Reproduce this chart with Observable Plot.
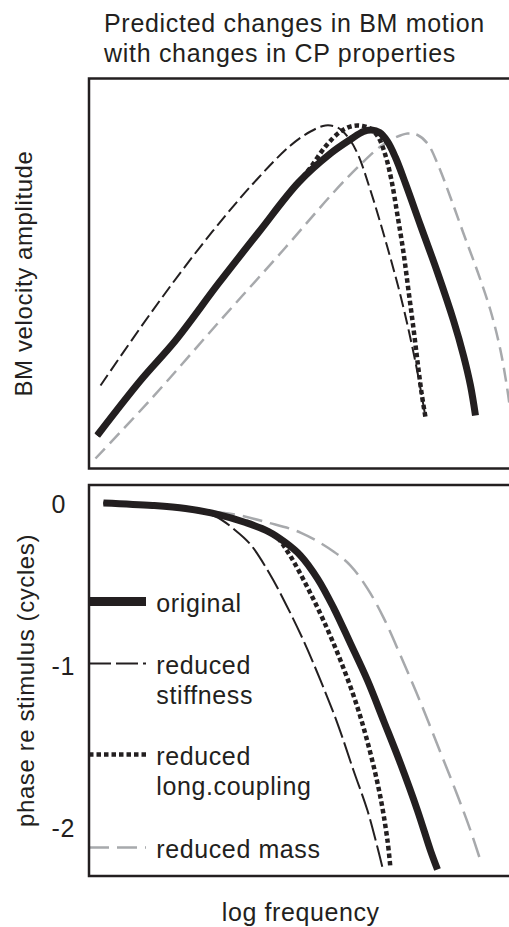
<!DOCTYPE html>
<html>
<head>
<meta charset="utf-8">
<script src="https://cdn.jsdelivr.net/npm/d3@7"></script>
<script src="https://cdn.jsdelivr.net/npm/@observablehq/plot@0.6"></script>
<style>
  html, body { margin: 0; padding: 0; background: #fff; overflow: hidden; width: 509px; height: 927px; }
  #root { position: relative; width: 509px; height: 927px; overflow: hidden;
          font-family: "Liberation Sans", Arial, Helvetica, sans-serif; color: #231f20; }
  #title { position: absolute; left: 104px; top: 8px; font-size: 25px; line-height: 30px;
           letter-spacing: 0.7px; white-space: nowrap; z-index: 2; }
  .panel { position: absolute; left: 0; }
</style>
</head>
<body>
<div id="root">
  <div id="title">Predicted changes in BM motion<br>with changes in CP properties</div>
  <div id="topPanel" class="panel" style="top:70px"></div>
  <div id="bottomPanel" class="panel" style="top:480px"></div>
</div>
<script>
// ---------- DATA (log frequency in arbitrary units 0..100) ----------
const seriesNames = ["original", "reduced stiffness", "reduced long.coupling", "reduced mass"];
const legendLabels = ["original", "reduced\nstiffness", "reduced\nlong.coupling", "reduced mass"];

// Top panel: BM velocity amplitude (arbitrary units, 0..100)
const ampFreqOriginal = [1.94, 12.16, 20.43, 30.58, 40.02, 49.47, 57.02, 61.74, 64.82, 66.71, 68.60, 70.48, 72.37, 74.73, 78.28, 82.29, 86.07, 88.43, 90.08, 91.26];
const ampOriginal     = [8.46, 22.56, 32.82, 47.44, 60.51, 73.33, 80.77, 84.36, 86.41, 86.79, 86.15, 83.85, 79.74, 73.08, 62.31, 50.26, 37.95, 28.97, 21.28, 13.59];

const ampFreqStiffness = [2.72, 14.52, 26.33, 38.13, 47.58, 52.30, 55.84, 58.68, 61.04, 63.40, 66.47, 70.48, 73.55, 75.91, 77.80, 79.46];
const ampStiffness     = [21.28, 39.74, 56.92, 72.31, 82.82, 86.41, 87.95, 87.44, 85.13, 80.77, 71.28, 56.67, 44.36, 33.33, 23.33, 13.08];

const ampFreqCoupling = [1.94, 12.16, 20.43, 30.58, 40.02, 49.47, 52.30, 55.84, 59.39, 62.22, 64.58, 66.71, 68.36, 70.01, 71.43, 72.85, 74.26, 75.44, 76.62, 77.57, 78.51, 79.46];
const ampCoupling     = [8.46, 22.56, 32.82, 47.44, 60.51, 73.33, 77.18, 82.56, 86.41, 87.82, 87.82, 86.92, 84.87, 80.26, 73.85, 64.87, 55.38, 45.64, 35.90, 27.44, 19.49, 13.08];

const ampFreqMass = [1.53, 14.99, 30.58, 46.40, 57.73, 64.11, 68.83, 72.37, 75.21, 77.57, 79.93, 82.29, 85.36, 88.43, 91.74, 94.81, 97.17, 98.82, 99.53];
const ampMass     = [2.56, 18.21, 37.44, 56.67, 70.77, 77.95, 82.56, 84.87, 85.90, 85.51, 83.33, 78.21, 69.49, 60.26, 50.51, 40.51, 30.26, 20.00, 14.36];

// Bottom panel: phase re stimulus (cycles)
const phFreqOriginal = [3.42, 14.99, 22.79, 30.58, 36.95, 42.39, 46.40, 49.94, 53.96, 57.73, 61.74, 65.76, 69.54, 73.55, 77.57, 80.64, 82.29];
const phOriginal     = [0.01, -0.006, -0.025, -0.062, -0.111, -0.167, -0.235, -0.315, -0.457, -0.636, -0.858, -1.086, -1.333, -1.599, -1.889, -2.136, -2.253];

const phFreqStiffness = [3.42, 14.99, 22.79, 29.87, 34.59, 38.14, 42.62, 46.64, 50.65, 54.67, 58.68, 62.46, 65.76, 68.12, 69.30];
const phStiffness     = [0.01, -0.006, -0.025, -0.074, -0.160, -0.247, -0.426, -0.623, -0.840, -1.086, -1.352, -1.642, -1.889, -2.117, -2.241];

const phFreqCoupling = [3.42, 14.99, 22.79, 30.58, 36.95, 42.39, 44.51, 47.58, 51.59, 55.37, 59.39, 63.40, 66.47, 68.83, 70.48, 71.19];
const phCoupling     = [0.01, -0.006, -0.025, -0.062, -0.111, -0.167, -0.205, -0.320, -0.512, -0.716, -0.963, -1.253, -1.537, -1.809, -2.074, -2.247];

const phFreqMass = [3.42, 14.99, 22.79, 30.58, 34.59, 42.15, 49.94, 57.73, 61.74, 65.76, 69.54, 73.55, 78.28, 83.00, 87.01, 90.08, 92.44];
const phMass     = [0.01, -0.006, -0.025, -0.049, -0.062, -0.111, -0.173, -0.290, -0.377, -0.519, -0.698, -0.932, -1.222, -1.531, -1.796, -2.012, -2.198];

const phaseTicks = [0, -1, -2];

// ---------- STYLE / LAYOUT ----------
const ink = "#231f20";
const grey = "#a7a9ac";
const font = '"Liberation Sans", Arial, Helvetica, sans-serif';

const zip = (xs, ys) => xs.map((x, i) => ({x, y: ys[i]}));

const topStyles = [
  {stroke: ink, strokeWidth: 7, strokeLinecap: "butt", strokeLinejoin: "round"},
  {stroke: ink, strokeWidth: 2, strokeDasharray: "13,5", strokeLinecap: "butt"},
  {stroke: ink, strokeWidth: 4.5, strokeDasharray: "4.5,3", strokeLinecap: "butt"},
  {stroke: grey, strokeWidth: 2.5, strokeDasharray: "14,7", strokeLinecap: "butt"}
];
const bottomStyles = [
  {stroke: ink, strokeWidth: 7, strokeLinecap: "butt", strokeLinejoin: "round"},
  {stroke: ink, strokeWidth: 2, strokeDasharray: "22,5", strokeLinecap: "butt"},
  {stroke: ink, strokeWidth: 4.5, strokeDasharray: "4.5,3", strokeLinecap: "butt"},
  {stroke: grey, strokeWidth: 2.5, strokeDasharray: "20,8", strokeLinecap: "butt"}
];

const topData = [
  zip(ampFreqOriginal, ampOriginal),
  zip(ampFreqStiffness, ampStiffness),
  zip(ampFreqCoupling, ampCoupling),
  zip(ampFreqMass, ampMass)
];
const bottomData = [
  zip(phFreqOriginal, phOriginal),
  zip(phFreqStiffness, phStiffness),
  zip(phFreqCoupling, phCoupling),
  zip(phFreqMass, phMass)
];

// draw order: mass, original, coupling, stiffness
const order = [3, 0, 2, 1];

const svgStyle = {fontFamily: font, fontSize: "24px", color: ink, background: "transparent",
                  maxWidth: "none", letterSpacing: "0.6px"};

const topPlot = Plot.plot({
  width: 520, height: 410,
  marginTop: 8, marginBottom: 12, marginLeft: 88.5, marginRight: 8,
  x: {domain: [0, 100], axis: null},
  y: {domain: [0, 100]},
  style: svgStyle,
  marks: [
    Plot.axisY({ticks: [], tickSize: 0, label: "BM velocity amplitude", labelAnchor: "center",
                labelOffset: 74, labelArrow: "none", fill: ink, fontSize: 24}),
    ...order.map(i => Plot.line(topData[i], {x: "x", y: "y", curve: "catmull-rom", ...topStyles[i]})),
    Plot.frame({stroke: ink, strokeWidth: 2.5})
  ]
});
document.getElementById("topPanel").append(topPlot);

// legend layout (in bottom panel data coordinates)
const legendY = [-0.599, -0.981, -1.543, -2.117];
const legendX2 = 13.46;
const legendTextX = 15.9;
const legendBarWidths = [9, 2, 4.5, 2.5];

const bottomPlot = Plot.plot({
  width: 520, height: 447,
  marginTop: 4.5, marginBottom: 51.5, marginLeft: 88.5, marginRight: 8,
  x: {domain: [0, 100]},
  y: {domain: [-2.2932, 0.1204]},
  style: svgStyle,
  marks: [
    Plot.axisY({ticks: phaseTicks, tickSize: 0, tickPadding: 37.5, textAnchor: "start",
                tickFormat: d => String(d), label: null, fill: ink, fontSize: 25}),
    Plot.axisY({ticks: [], tickSize: 0, label: "phase re stimulus (cycles)", labelAnchor: "center",
                labelOffset: 72, labelArrow: "none", fill: ink, fontSize: 24}),
    Plot.axisX({ticks: [], tickSize: 0, label: "log frequency", labelAnchor: "center",
                labelOffset: 44.5, labelArrow: "none", fill: ink, fontSize: 25}),
    ...order.map(i => Plot.line(bottomData[i], {x: "x", y: "y", curve: "catmull-rom", ...bottomStyles[i]})),
    ...seriesNames.map((name, i) => Plot.line([{x: 0, y: legendY[i]}, {x: legendX2, y: legendY[i]}],
        {x: "x", y: "y", ...bottomStyles[i], strokeWidth: legendBarWidths[i]})),
    Plot.text(legendLabels.map((label, i) => ({label, x: legendTextX, y: legendY[i]})),
        {x: "x", y: "y", text: "label", textAnchor: "start", lineAnchor: "top", dy: -10.5,
         lineHeight: 1.2, fontSize: 25, fill: ink}),
    Plot.frame({stroke: ink, strokeWidth: 2.5})
  ]
});
document.getElementById("bottomPanel").append(bottomPlot);
</script>
</body>
</html>
